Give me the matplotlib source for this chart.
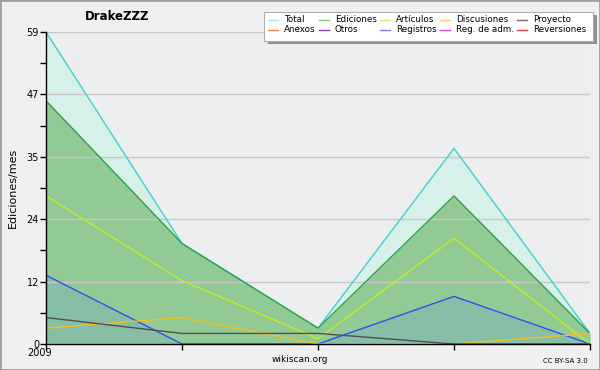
import numpy as np
import matplotlib.pyplot as plt
import matplotlib.transforms as mtransforms
from matplotlib.patches import Rectangle

# Monthly edit counts
months = [0, 1, 2, 3, 4]
total = [59, 19, 3, 37, 2]
ediciones = [46, 19, 3, 28, 2]
articulos = [28, 12, 1, 20, 0]
registros = [13, 0, 0, 9, 0]
discusiones = [3, 5, 0, 0, 2]
proyecto = [5, 2, 2, 0, 0]

legend_labels = ['Total', 'Ediciones', 'Artículos', 'Discusiones', 'Proyecto',
                 'Anexos', 'Otros', 'Registros', 'Reg. de adm.', 'Reversiones']
legend_colors = ['#a8e8e0', '#80c880', '#c8f070', '#f8d070', '#707070',
                 '#f08050', '#8040d0', '#8080f0', '#d050e0', '#e04040']

ymax = 59

fig = plt.figure(figsize=(6, 3.7), dpi=100, facecolor='#f0f0f0')
ax = fig.add_axes([46 / 600, 26 / 370, 544 / 600, 312 / 370])
ax.set_facecolor('#edeef0')

# filled areas
ax.fill_between(months, total, color='#d8f0ea', lw=0)
ax.plot(months, total, color='#40d0d0', lw=1)
ax.fill_between(months, ediciones, color='#92ca96', lw=0)
ax.plot(months, ediciones, color='#30a040', lw=1)
ax.fill_between(months, registros, color='#86bfa6', lw=0)
ax.plot(months, registros, color='#3050f0', lw=1)
ax.plot(months, articulos, color='#c0f020', lw=1)
ax.plot(months, discusiones, color='#f0c020', lw=1)
ax.plot(months, proyecto, color='#505050', lw=1)

ax.set_xlim(0, 4)
ax.set_ylim(0, ymax)

major = [ymax * i / 5 for i in range(6)]
ax.set_yticks(major)
ax.set_yticklabels([str(int(round(v))) for v in major], fontsize=7)
ax.set_yticks([ymax * (i + 0.5) / 5 for i in range(5)], minor=True)
ax.yaxis.grid(True, color='#c8c8c8', lw=1)
for line in ax.get_ygridlines():
    line.set_zorder(0.5)

ax.set_xticks(months)
ax.set_xticklabels(['2009', '', '', '', ''], fontsize=7)
ax.tick_params(axis='both', which='both', direction='out', length=4, width=1, pad=1)
ax.tick_params(axis='x', pad=-1)
shift = mtransforms.ScaledTranslation(-6 / 100, 0, fig.dpi_scale_trans)
for lbl in ax.get_xticklabels():
    lbl.set_transform(lbl.get_transform() + shift)
for s in ['top', 'right']:
    ax.spines[s].set_visible(False)
ax.spines['left'].set_linewidth(1)
ax.spines['bottom'].set_linewidth(1)

ax.set_ylabel('Ediciones/mes', fontsize=8, labelpad=6)

fig.text(85 / 600, 1 - 17 / 370, 'DrakeZZZ', fontsize=8.5, fontweight='bold',
         ha='left', va='center')
fig.text(300 / 600, 1 - 360 / 370, 'wikiscan.org', fontsize=6.5, ha='center', va='center')
fig.text(588 / 600, 1 - 361 / 370, 'CC BY-SA 3.0', fontsize=5, ha='right', va='center')

# legend box with shadow
fig.patches.append(Rectangle((268 / 600, 1 - 44 / 370), 329 / 600, 29 / 370,
                             transform=fig.transFigure, facecolor='#909090',
                             edgecolor='none'))
fig.patches.append(Rectangle((264 / 600, 1 - 41 / 370), 329 / 600, 29 / 370,
                             transform=fig.transFigure, facecolor='white',
                             edgecolor='#b0b0b0', lw=0.8))
line_x = [268, 319, 380, 440, 517]
row_y = [19.5, 29.5]
for i, (lab, col) in enumerate(zip(legend_labels, legend_colors)):
    r, c = divmod(i, 5)
    x0 = line_x[c] / 600
    y0 = 1 - row_y[r] / 370
    fig.add_artist(plt.Line2D([x0, x0 + 10 / 600], [y0, y0], color=col, lw=1,
                              transform=fig.transFigure))
    fig.text(x0 + 16 / 600, y0, lab, fontsize=6.3, ha='left', va='center')

# outer border
fig.patches.append(Rectangle((0, 0), 1, 1, transform=fig.transFigure,
                             facecolor='none', edgecolor='#a0a0a0', lw=2))

plt.savefig('out.png', dpi=100, facecolor=fig.get_facecolor())
